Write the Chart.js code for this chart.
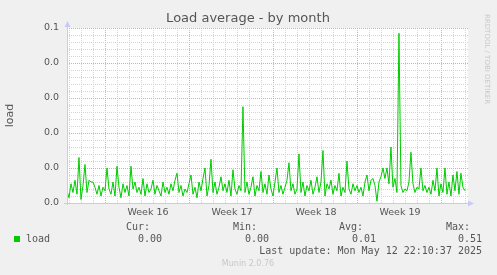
<!DOCTYPE html>
<html>
<head>
<meta charset="utf-8">
<script src="https://cdn.jsdelivr.net/npm/chart.js@4/dist/chart.umd.min.js"></script>
<style>
  html, body { margin: 0; padding: 0; background: #f0f0f0; }
  #wrap { width: 497px; height: 275px; }
</style>
</head>
<body>
<div id="wrap"><canvas id="loadChart" width="497" height="275"></canvas></div>
<script>
// Load samples, one every 4 hours
const loadValues = [
  0.007, 0.003, 0.011, 0.006, 0.013, 0.005, 0.026, 0.002, 0.010, 0.022,
  0.006, 0.013, 0.012, 0.012, 0.009, 0.005, 0.010, 0.004, 0.009, 0.007,
  0.020, 0.008, 0.005, 0.012, 0.004, 0.021, 0.009, 0.003, 0.011, 0.006,
  0.010, 0.004, 0.021, 0.008, 0.012, 0.006, 0.009, 0.005, 0.014, 0.004,
  0.011, 0.006, 0.008, 0.013, 0.005, 0.010, 0.007, 0.004, 0.012, 0.006,
  0.009, 0.005, 0.011, 0.007, 0.013, 0.017, 0.006, 0.010, 0.004, 0.008,
  0.006, 0.011, 0.016, 0.005, 0.009, 0.003, 0.012, 0.007, 0.014, 0.020,
  0.004, 0.010, 0.025, 0.006, 0.012, 0.005, 0.009, 0.015, 0.007, 0.011,
  0.006, 0.013, 0.004, 0.019, 0.008, 0.005, 0.010, 0.007, 0.055, 0.006,
  0.012, 0.005, 0.009, 0.015, 0.004, 0.010, 0.007, 0.018, 0.006, 0.011,
  0.005, 0.016, 0.008, 0.004, 0.012, 0.020, 0.006, 0.010, 0.005, 0.009,
  0.013, 0.023, 0.007, 0.011, 0.005, 0.008, 0.028, 0.006, 0.012, 0.004,
  0.010, 0.007, 0.013, 0.005, 0.009, 0.015, 0.006, 0.012, 0.030, 0.004,
  0.011, 0.008, 0.013, 0.005, 0.010, 0.007, 0.017, 0.004, 0.009, 0.006,
  0.024, 0.008, 0.005, 0.011, 0.007, 0.010, 0.006, 0.009, 0.004, 0.012,
  0.016, 0.007, 0.013, 0.014, 0.010, 0.001, 0.012, 0.015, 0.020, 0.014,
  0.020, 0.011, 0.032, 0.009, 0.014, 0.006, 0.097, 0.010, 0.006, 0.008,
  0.007, 0.012, 0.029, 0.011, 0.006, 0.009, 0.008, 0.020, 0.007, 0.010,
  0.006, 0.009, 0.005, 0.013, 0.007, 0.020, 0.004, 0.011, 0.006, 0.020,
  0.005, 0.012, 0.004, 0.016, 0.007, 0.018, 0.005, 0.017, 0.009, 0.007
];
const sampleDays = 4 / 24;          // spacing of the samples, in days
const weekLabels = ['Week 16', 'Week 17', 'Week 18', 'Week 19'];
const firstWeekLine = 3.25;         // day offset of the first week boundary
const yTickLabels = ['0.0', '0.0', '0.0', '0.0', '0.0', '0.1'];
const legendHeaders = ['Cur:', 'Min:', 'Avg:', 'Max:'];
const legendValues = ['0.00', '0.00', '0.01', '0.51'];
const lastUpdate = 'Last update: Mon May 12 22:10:37 2025';

const GRID_MINOR = '#d4d4d4';
const GRID_MAJOR = '#e6a6a6';
const AXIS_COLOR = '#c8c8ff';
const TEXT_COLOR = '#555555';

// Munin-ish frame: white plot area, axis arrows and the text around the graph
const muninFrame = {
  id: 'muninFrame',
  beforeDraw(chart) {
    const { ctx, chartArea: a } = chart;
    ctx.save();
    ctx.fillStyle = '#ffffff';
    ctx.fillRect(a.left, a.top, a.right - a.left, a.bottom - a.top);
    ctx.restore();
  },
  afterDraw(chart) {
    const { ctx, chartArea: a } = chart;
    ctx.save();
    // axes with arrows
    ctx.strokeStyle = AXIS_COLOR;
    ctx.fillStyle = AXIS_COLOR;
    ctx.lineWidth = 1;
    ctx.beginPath();
    ctx.moveTo(a.left + 0.5, a.bottom + 2);
    ctx.lineTo(a.left + 0.5, a.top - 4);
    ctx.moveTo(a.left - 3, a.bottom + 0.5);
    ctx.lineTo(a.right + 2, a.bottom + 0.5);
    ctx.stroke();
    ctx.beginPath();
    ctx.moveTo(a.left + 0.5, a.top - 7);
    ctx.lineTo(a.left - 2.5, a.top - 1);
    ctx.lineTo(a.left + 3.5, a.top - 1);
    ctx.fill();
    ctx.beginPath();
    ctx.moveTo(a.right + 6, a.bottom + 0.5);
    ctx.lineTo(a.right, a.bottom - 2.5);
    ctx.lineTo(a.right, a.bottom + 3.5);
    ctx.fill();

    // title
    ctx.fillStyle = TEXT_COLOR;
    ctx.font = '13px "DejaVu Sans"';
    ctx.textAlign = 'center';
    ctx.textBaseline = 'middle';
    ctx.fillText('Load average - by month', 248, 19);

    // legend block
    ctx.font = '10px "DejaVu Sans Mono"';
    ctx.textAlign = 'right';
    const colRight = [150, 257, 363, 470];
    legendHeaders.forEach((h, i) => ctx.fillText(h, colRight[i], 227));
    const valRight = [162, 269, 376, 482];
    legendValues.forEach((v, i) => ctx.fillText(v, valRight[i], 239));
    ctx.fillText(lastUpdate, 482, 251);
    ctx.textAlign = 'left';
    ctx.fillText('load', 26, 239);
    ctx.fillStyle = '#00cc00';
    ctx.fillRect(14, 236, 6, 6);

    // credits
    ctx.fillStyle = '#c8c8c8';
    ctx.font = '8px "DejaVu Sans"';
    ctx.textAlign = 'center';
    ctx.fillText('Munin 2.0.76', 248, 264);
    ctx.translate(487, 14);
    ctx.rotate(Math.PI / 2);
    ctx.textAlign = 'left';
    ctx.font = '7px "DejaVu Sans"';
    ctx.fillText('RRDTOOL / TOBI OETIKER', 0, 0);
    ctx.restore();
  }
};

function isWeekLine(v) {
  const r = (v - firstWeekLine) / 7;
  return Math.abs(r - Math.round(r)) < 0.001;
}

function initializeChart() {
  const ctx = document.getElementById('loadChart').getContext('2d');
  return new Chart(ctx, {
    type: 'line',
    data: {
      datasets: [{
        label: 'load',
        data: loadValues.map((v, i) => ({ x: i * sampleDays, y: v })),
        borderColor: '#00cc00',
        borderWidth: 1,
        pointRadius: 0,
        tension: 0,
        fill: false
      }]
    },
    options: {
      responsive: false,
      animation: false,
      layout: { padding: { top: 28, right: 29, left: 0, bottom: 0 } },
      plugins: {
        legend: { display: false },
        title: { display: false },
        tooltip: { enabled: false }
      },
      scales: {
        x: {
          type: 'linear',
          min: 0,
          max: 33.42,
          afterFit: (scale) => { scale.height = 72; },
          afterBuildTicks: (scale) => {
            const ticks = [];
            for (let d = 0.25; d < 33.4; d += 1) ticks.push({ value: d });
            weekLabels.forEach((w, k) => ticks.push({ value: firstWeekLine + 7 * k + 3.5, week: w }));
            ticks.sort((a, b) => a.value - b.value);
            scale.ticks = ticks;
          },
          ticks: {
            autoSkip: false,
            maxRotation: 0,
            padding: 4,
            color: TEXT_COLOR,
            font: { family: 'DejaVu Sans', size: 9.5 },
            callback: (value, index, ticks) => ticks[index].week || ''
          },
          grid: {
            drawTicks: false,
            color: (c) => {
              if (!c.tick || c.tick.week) return 'rgba(0,0,0,0)';
              return isWeekLine(c.tick.value) ? GRID_MAJOR : GRID_MINOR;
            }
          },
          border: { display: false, dash: [1, 1] }
        },
        y: {
          min: 0,
          max: 0.1,
          afterFit: (scale) => { scale.width = 67; },
          ticks: {
            stepSize: 0.004,
            autoSkip: false,
            padding: 8,
            color: TEXT_COLOR,
            font: { family: 'DejaVu Sans', size: 9.5 },
            callback: (value, index) => (index % 5 === 0 ? yTickLabels[index / 5] : '')
          },
          title: {
            display: true,
            text: 'load',
            color: TEXT_COLOR,
            font: { family: 'DejaVu Sans', size: 11 },
            padding: { top: 4, bottom: 0 }
          },
          grid: {
            drawTicks: false,
            color: (c) => (c.index % 5 === 0 ? GRID_MAJOR : GRID_MINOR)
          },
          border: { display: false, dash: [1, 1] }
        }
      }
    },
    plugins: [muninFrame]
  });
}

document.addEventListener('DOMContentLoaded', () => {
  initializeChart();
});
</script>
</body>
</html>
